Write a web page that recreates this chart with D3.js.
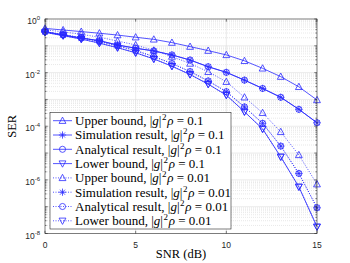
<!DOCTYPE html>
<html lang="en">
<head>
<meta charset="UTF-8">
<title>SER vs SNR</title>
<style>
  body { margin: 0; background: #fff; }
</style>
</head>
<body>
<div id="chart"></div>
<script src="https://d3js.org/d3.v7.min.js"></script>
<script>
// SNR points (dB)
var snr = [0, 1, 2, 3, 4, 5, 6, 7, 8, 9, 10, 11, 12, 13, 14, 15];

// log10(SER)
var upper01  = [-0.35, -0.41, -0.47, -0.53, -0.60, -0.68, -0.76, -0.88, -1.03, -1.18, -1.34, -1.56, -1.84, -2.15, -2.53, -3.02];
var sim01    = [-0.47, -0.60, -0.71, -0.81, -0.97, -1.09, -1.19, -1.34, -1.53, -1.78, -1.99, -2.28, -2.59, -2.92, -3.37, -3.87];
var ana01    = [-0.47, -0.60, -0.71, -0.81, -0.97, -1.09, -1.19, -1.34, -1.53, -1.78, -1.99, -2.28, -2.59, -2.92, -3.37, -3.87];
var lower01  = [-0.50, -0.62, -0.75, -0.90, -1.07, -1.26, -1.49, -1.76, -2.07, -2.43, -2.84, -3.46, -4.10, -5.14, -6.26, -7.75];
var upper001 = [-0.40, -0.48, -0.57, -0.68, -0.82, -0.97, -1.17, -1.40, -1.66, -1.97, -2.34, -2.92, -3.50, -4.21, -5.07, -6.16];
var sim001   = [-0.47, -0.58, -0.70, -0.84, -1.00, -1.18, -1.40, -1.66, -1.96, -2.31, -2.71, -3.28, -3.89, -4.74, -5.76, -7.04];
var ana001   = [-0.47, -0.58, -0.70, -0.84, -1.00, -1.18, -1.40, -1.66, -1.96, -2.31, -2.71, -3.28, -3.89, -4.74, -5.76, -7.04];
var lower001 = [-0.50, -0.62, -0.75, -0.90, -1.07, -1.26, -1.49, -1.76, -2.07, -2.43, -2.84, -3.46, -4.10, -5.14, -6.26, -7.75];

var seriesNames = ["Upper bound", "Simulation result", "Analytical result", "Lower bound",
                   "Upper bound", "Simulation result", "Analytical result", "Lower bound"];
var seriesRho = ["0.1", "0.1", "0.1", "0.1", "0.01", "0.01", "0.01", "0.01"];
var seriesMarker = ["up", "star", "circle", "down", "up", "star", "circle", "down"];
var seriesData = [upper01, sim01, ana01, lower01, upper001, sim001, ana001, lower001];

var xTicks = [0, 5, 10, 15];
var yTickExp = [0, -2, -4, -6, -8];

(function () {
var W = 350, H = 263;
var pLeft = 45, pRight = 317, pTop = 19, pBottom = 233.5;
var blue = "#2a2aff";
var axisColor = "#262626";
var serif = "'Liberation Serif', 'Times New Roman', serif";

var svg = d3.select("#chart").append("svg")
    .attr("width", W).attr("height", H)
    .style("font-family", "'Liberation Sans', Arial, sans-serif");

var x = d3.scaleLinear().domain([0, 15]).range([pLeft, pRight]);
var y = d3.scaleLog().domain([1e-8, 1]).range([pBottom, pTop]);

// minor grid (dotted)
var minor = [];
for (var e = -8; e < 0; e++) {
    for (var m = 2; m <= 9; m++) minor.push(m * Math.pow(10, e));
}
svg.append("g").selectAll("line").data(minor).join("line")
    .attr("x1", pLeft).attr("x2", pRight)
    .attr("y1", function (d) { return y(d); }).attr("y2", function (d) { return y(d); })
    .attr("stroke", "#d0d0d0").attr("stroke-width", 0.5).attr("stroke-dasharray", "1,1");

// major grid
var majors = d3.range(-7, 0).map(function (k) { return Math.pow(10, k); });
svg.append("g").selectAll("line").data(majors).join("line")
    .attr("x1", pLeft).attr("x2", pRight)
    .attr("y1", function (d) { return y(d); }).attr("y2", function (d) { return y(d); })
    .attr("stroke", "#dedede").attr("stroke-width", 0.6);
svg.append("g").selectAll("line").data([5, 10]).join("line")
    .attr("y1", pTop).attr("y2", pBottom)
    .attr("x1", function (d) { return x(d); }).attr("x2", function (d) { return x(d); })
    .attr("stroke", "#dedede").attr("stroke-width", 0.6);

// markers
function markerPath(type, r) {
    var p = d3.path();
    if (type === "up") {
        p.moveTo(0, -r); p.lineTo(r * 0.95, r * 0.75); p.lineTo(-r * 0.95, r * 0.75); p.closePath();
    } else if (type === "down") {
        p.moveTo(0, r); p.lineTo(r * 0.95, -r * 0.75); p.lineTo(-r * 0.95, -r * 0.75); p.closePath();
    } else if (type === "circle") {
        p.arc(0, 0, r * 0.85, 0, 2 * Math.PI);
    } else {
        var s = r * 0.7;
        p.moveTo(-r, 0); p.lineTo(r, 0);
        p.moveTo(0, -r); p.lineTo(0, r);
        p.moveTo(-s, -s); p.lineTo(s, s);
        p.moveTo(-s, s); p.lineTo(s, -s);
    }
    return p.toString();
}

var line = d3.line()
    .x(function (d, i) { return x(snr[i]); })
    .y(function (d) { return y(Math.pow(10, d)); });

seriesData.forEach(function (vals, k) {
    var dotted = k >= 4;
    var g = svg.append("g");
    g.append("path")
        .attr("d", line(vals))
        .attr("fill", "none")
        .attr("stroke", blue)
        .attr("stroke-width", 0.8)
        .attr("stroke-dasharray", dotted ? "1,1.5" : null);
    g.selectAll("path.mk").data(vals).join("path")
        .attr("class", "mk")
        .attr("transform", function (d, i) { return "translate(" + x(snr[i]) + "," + y(Math.pow(10, d)) + ")"; })
        .attr("d", markerPath(seriesMarker[k], 3.6))
        .attr("fill", "none")
        .attr("stroke", blue)
        .attr("stroke-width", 0.8);
});

// axes box
svg.append("rect")
    .attr("x", pLeft).attr("y", pTop)
    .attr("width", pRight - pLeft).attr("height", pBottom - pTop)
    .attr("fill", "none").attr("stroke", axisColor).attr("stroke-width", 0.6);

// ticks (inside)
var tk = svg.append("g").attr("stroke", axisColor).attr("stroke-width", 0.6);
xTicks.forEach(function (v) {
    tk.append("line").attr("x1", x(v)).attr("x2", x(v)).attr("y1", pBottom).attr("y2", pBottom - 2.7);
    tk.append("line").attr("x1", x(v)).attr("x2", x(v)).attr("y1", pTop).attr("y2", pTop + 2.7);
});
d3.range(-8, 1).forEach(function (e) {
    var yy = y(Math.pow(10, e));
    tk.append("line").attr("x1", pLeft).attr("x2", pLeft + 2.7).attr("y1", yy).attr("y2", yy);
    tk.append("line").attr("x1", pRight).attr("x2", pRight - 2.7).attr("y1", yy).attr("y2", yy);
});
minor.forEach(function (v) {
    var yy = y(v);
    tk.append("line").attr("x1", pLeft).attr("x2", pLeft + 1.5).attr("y1", yy).attr("y2", yy);
    tk.append("line").attr("x1", pRight).attr("x2", pRight - 1.5).attr("y1", yy).attr("y2", yy);
});

// tick labels
svg.append("g").selectAll("text").data(xTicks).join("text")
    .attr("x", function (d) { return x(d); })
    .attr("y", pBottom + 14)
    .attr("text-anchor", "middle")
    .attr("font-size", 8.5)
    .attr("fill", axisColor)
    .text(function (d) { return d; });

var yl = svg.append("g").selectAll("text").data(yTickExp).join("text")
    .attr("x", pLeft - 5)
    .attr("y", function (d) { return y(Math.pow(10, d)) + 5; })
    .attr("text-anchor", "end")
    .attr("font-size", 8.5)
    .attr("fill", axisColor);
yl.append("tspan").text("10");
yl.append("tspan").attr("dy", -4).attr("font-size", 6).text(function (d) { return d; });

// axis labels
svg.append("text")
    .attr("x", (pLeft + pRight) / 2).attr("y", 258)
    .attr("text-anchor", "middle")
    .attr("font-family", serif)
    .attr("font-size", 12.5).attr("fill", "#000")
    .text("SNR (dB)");
svg.append("text")
    .attr("transform", "translate(16," + ((pTop + pBottom) / 2) + ") rotate(-90)")
    .attr("text-anchor", "middle")
    .attr("font-family", serif)
    .attr("font-size", 12.5).attr("fill", "#000")
    .text("SER");

// legend
var lgX = 50, lgY = 112.5, lgW = 181, lgH = 116.5, rowH = 14.3, row0 = 120.7;
svg.append("rect")
    .attr("x", lgX).attr("y", lgY).attr("width", lgW).attr("height", lgH)
    .attr("fill", "#fff").attr("stroke", axisColor).attr("stroke-width", 0.6);

seriesNames.forEach(function (name, k) {
    var yy = row0 + k * rowH;
    var g = svg.append("g");
    g.append("line")
        .attr("x1", 53).attr("x2", 72).attr("y1", yy).attr("y2", yy)
        .attr("stroke", blue).attr("stroke-width", 0.8)
        .attr("stroke-dasharray", k >= 4 ? "1,1.5" : null);
    g.append("path")
        .attr("transform", "translate(62.5," + yy + ")")
        .attr("d", markerPath(seriesMarker[k], 3.6))
        .attr("fill", "none").attr("stroke", blue).attr("stroke-width", 0.8);
    var t = g.append("text")
        .attr("x", 75).attr("y", yy + 4.3)
        .attr("font-family", serif)
        .attr("font-size", 13).attr("fill", "#000");
    t.append("tspan").text(name + ", |");
    t.append("tspan").attr("font-style", "italic").text("g");
    t.append("tspan").text("|");
    t.append("tspan").attr("dx", 0.5).attr("dy", -5).attr("font-size", 9).text("2");
    t.append("tspan").attr("dx", 0.8).attr("dy", 5).attr("font-style", "italic").text("\u03C1");
    t.append("tspan").text(" = " + seriesRho[k]);
});
})();
</script>
</body>
</html>
